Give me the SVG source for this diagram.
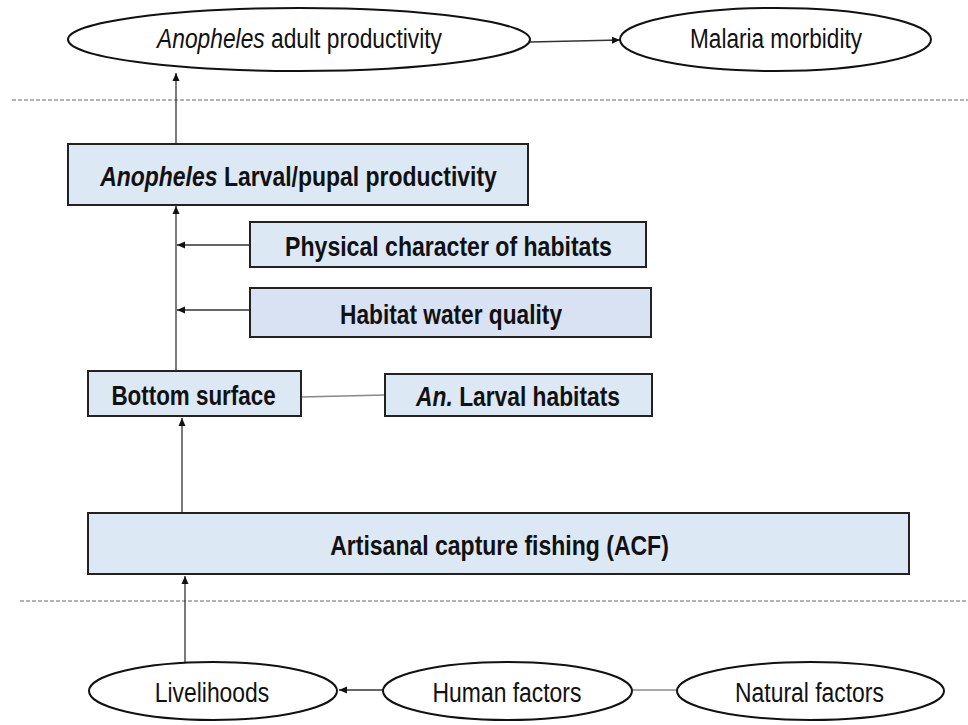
<svg xmlns="http://www.w3.org/2000/svg" width="968" height="725" viewBox="0 0 968 725">
<style>
  .box { fill: #dde8f5; stroke: #222; stroke-width: 2; }
  .box2 { fill: #d9e2f3; stroke: #222; stroke-width: 2; }
  .ell { fill: #fff; stroke: #111; stroke-width: 2; }
  .t { font-family: "Liberation Sans", Arial, sans-serif; font-size: 28px; fill: #111; text-anchor: middle; }
  .b { font-weight: bold; }
  .i { font-style: italic; }
  .arr { stroke: #333; stroke-width: 1.3; fill: none; marker-end: url(#ah); }
  .ln { stroke: #888; stroke-width: 1.5; fill: none; }
  .dash { stroke: #999; stroke-width: 1.3; stroke-dasharray: 4 2; fill: none; }
</style>
<defs>
  <marker id="ah" markerWidth="9" markerHeight="9" refX="8" refY="4.5" orient="auto" markerUnits="userSpaceOnUse">
    <path d="M0,1 L8,4.5 L0,8 Z" fill="#111"/>
  </marker>
</defs>

<g id="separators">
  <line class="dash" x1="12" y1="100" x2="968" y2="100"/>
  <line class="dash" x1="20" y1="601" x2="968" y2="601"/>
</g>

<g id="connectors">
  <line class="arr" x1="530" y1="42" x2="620" y2="40"/>
  <line class="arr" x1="176" y1="144" x2="176" y2="73"/>
  <line class="arr" x1="176" y1="370" x2="176" y2="206"/>
  <line class="arr" x1="250" y1="245" x2="177" y2="245"/>
  <line class="arr" x1="250" y1="310" x2="177" y2="310"/>
  <line class="ln" x1="301" y1="397" x2="385" y2="395"/>
  <line class="arr" x1="182" y1="513" x2="182" y2="418"/>
  <line class="arr" x1="185" y1="662" x2="185" y2="576"/>
  <line class="arr" x1="383" y1="690" x2="339" y2="690"/>
  <line class="ln" x1="632" y1="690" x2="677" y2="690"/>
</g>

<g id="adult-productivity">
  <ellipse class="ell" cx="299" cy="39.5" rx="231" ry="31.5"/>
  <text class="t" transform="translate(299.5,48) scale(0.814,1)"><tspan class="i">Anopheles</tspan> adult productivity</text>
</g>

<g id="malaria-morbidity">
  <ellipse class="ell" cx="775.5" cy="39.5" rx="155.5" ry="31.5"/>
  <text class="t" transform="translate(776,48) scale(0.807,1)">Malaria morbidity</text>
</g>

<g id="larval-productivity">
  <rect class="box" x="68" y="144" width="460" height="61"/>
  <text class="t b" transform="translate(298.5,186) scale(0.82,1)"><tspan class="i">Anopheles</tspan> Larval/pupal productivity</text>
</g>

<g id="physical-character">
  <rect class="box" x="250" y="222" width="396" height="45"/>
  <text class="t b" transform="translate(448.5,256) scale(0.824,1)">Physical character of habitats</text>
</g>

<g id="water-quality">
  <rect class="box2" x="250" y="288" width="401" height="49"/>
  <text class="t b" transform="translate(451,324) scale(0.811,1)">Habitat water quality</text>
</g>

<g id="bottom-surface">
  <rect class="box" x="88" y="371" width="213" height="45"/>
  <text class="t b" transform="translate(193.5,405) scale(0.8,1)">Bottom surface</text>
</g>

<g id="larval-habitats">
  <rect class="box" x="385" y="374" width="267" height="42"/>
  <text class="t b" transform="translate(518,406) scale(0.814,1)"><tspan class="i">An.</tspan> Larval habitats</text>
</g>

<g id="acf">
  <rect class="box" x="88" y="513" width="821" height="61"/>
  <text class="t b" transform="translate(499.5,555) scale(0.822,1)">Artisanal capture fishing (ACF)</text>
</g>

<g id="livelihoods">
  <ellipse class="ell" cx="213" cy="691" rx="124" ry="29"/>
  <text class="t" transform="translate(212,702) scale(0.818,1)">Livelihoods</text>
</g>

<g id="human-factors">
  <ellipse class="ell" cx="507.5" cy="691" rx="124.5" ry="29"/>
  <text class="t" transform="translate(507,702) scale(0.818,1)">Human factors</text>
</g>

<g id="natural-factors">
  <ellipse class="ell" cx="810.5" cy="691" rx="133.5" ry="29"/>
  <text class="t" transform="translate(809.5,702) scale(0.818,1)">Natural factors</text>
</g>
</svg>
